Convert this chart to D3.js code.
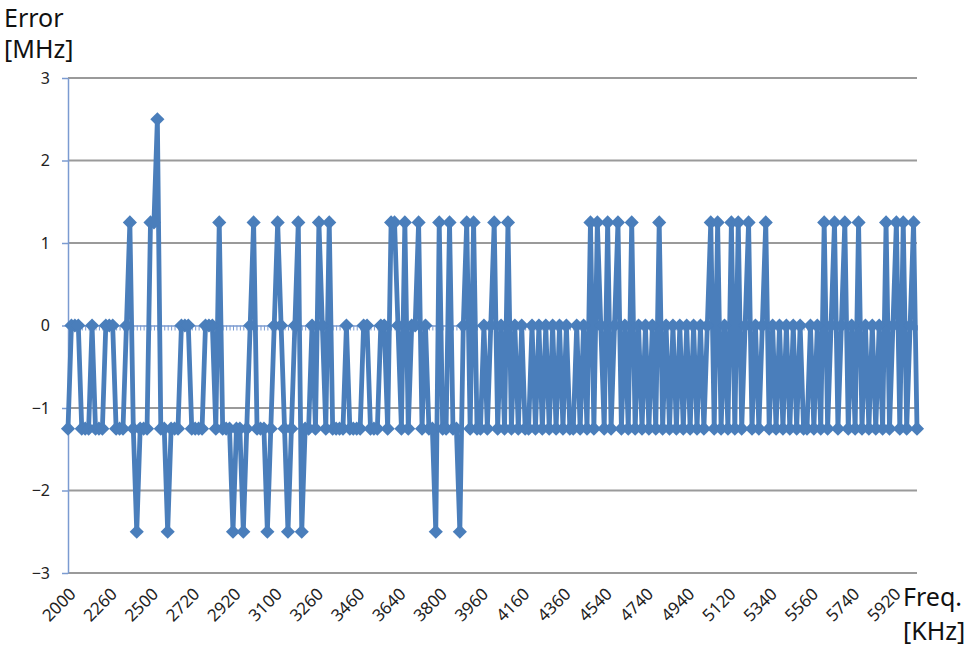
<!DOCTYPE html>
<html>
<head>
<meta charset="utf-8">
<script src="https://cdn.jsdelivr.net/npm/d3@7"></script>
<style>
  body { margin: 0; background: #fff; }
  text { font-family: "Noto Sans", "Open Sans", sans-serif; }
  .tick-label { font-size: 16px; fill: #222; }
  .title { font-size: 25px; fill: #111; }
</style>
</head>
<body>
<div id="vis"></div>
<script>
// x-axis labels, one every 12 measurement points
const tickLabels = ['2000', '2260', '2500', '2720', '2920', '3100', '3260', '3460', '3640', '3800', '3960',
                    '4160', '4360', '4540', '4740', '4940', '5120', '5340', '5560', '5740', '5920']
const labelEvery = 12
const yTicks = [3, 2, 1, 0, -1, -2, -3]

// error per measurement point [MHz]
const errors = [
  -1.25, 0, 0, 0, -1.25, -1.25, -1.25, 0, -1.25, -1.25,
  -1.25, 0, 0, 0, -1.25, -1.25, -1.25, 0, 1.25, -1.25,
  -2.5, -1.25, -1.25, -1.25, 1.25, 1.25, 2.5, -1.25, -1.25, -2.5,
  -1.25, -1.25, -1.25, 0, 0, 0, -1.25, -1.25, -1.25, -1.25,
  0, 0, 0, -1.25, 1.25, -1.25, -1.25, -1.25, -2.5, -1.25,
  -1.25, -2.5, -1.25, 0, 1.25, -1.25, -1.25, -1.25, -2.5, -1.25,
  0, 1.25, 0, -1.25, -2.5, -1.25, 0, 1.25, -2.5, -1.25,
  -1.25, 0, -1.25, 1.25, 0, -1.25, 1.25, -1.25, -1.25, -1.25,
  -1.25, 0, -1.25, -1.25, -1.25, -1.25, 0, 0, -1.25, -1.25,
  -1.25, 0, 0, -1.25, 1.25, 1.25, 0, -1.25, 1.25, -1.25,
  0, 0, 1.25, -1.25, 0, -1.25, -1.25, -2.5, 1.25, -1.25,
  -1.25, 1.25, -1.25, -1.25, -2.5, 0, 1.25, -1.25, 1.25, -1.25,
  -1.25, 0, -1.25, 0, 1.25, -1.25, 0, -1.25, 1.25, -1.25,
  0, -1.25, 0, -1.25, -1.25, 0, -1.25, 0, -1.25, 0,
  -1.25, 0, -1.25, 0, -1.25, 0, -1.25, -1.25, 0, -1.25,
  0, -1.25, 1.25, -1.25, 1.25, 0, -1.25, 1.25, -1.25, 0,
  1.25, -1.25, 0, -1.25, 1.25, -1.25, 0, -1.25, 0, -1.25,
  0, -1.25, 1.25, -1.25, 0, -1.25, 0, -1.25, 0, -1.25,
  0, -1.25, 0, -1.25, 0, -1.25, 0, 1.25, -1.25, 1.25,
  -1.25, 0, -1.25, 1.25, -1.25, 1.25, -1.25, 0, 1.25, -1.25,
  0, -1.25, 0, 1.25, -1.25, 0, -1.25, 0, -1.25, 0,
  -1.25, 0, -1.25, 0, -1.25, -1.25, 0, -1.25, 0, -1.25,
  1.25, -1.25, 0, 1.25, -1.25, 0, 1.25, -1.25, 0, -1.25,
  1.25, -1.25, 0, -1.25, 0, -1.25, 0, -1.25, 1.25, -1.25,
  0, 1.25, -1.25, 1.25, -1.25, 0, 1.25, -1.25
]

;(function() {
  const svg_width = 972,
        svg_height = 648,
        blue = '#4a7ebb',
        axisBlue = '#7b9bd1',
        svg = d3.select('#vis').append('svg')
          .attr('width', svg_width)
          .attr('height', svg_height)

  const x = d3.scalePoint()
    .domain(d3.range(errors.length))
    .range([68, 917])

  const y = d3.scaleLinear()
    .domain([-3, 3])
    .range([573, 78])

  // gridlines
  svg.append('g').attr('class', 'grid')
    .selectAll('line')
    .data(yTicks.filter(d => d !== 0))
    .join('line')
    .attr('x1', 68)
    .attr('x2', 917)
    .attr('y1', d => y(d))
    .attr('y2', d => y(d))
    .attr('stroke', '#9a9a9a')
    .attr('stroke-width', 1.8)

  // y axis
  const yAxis = svg.append('g')
    .attr('transform', 'translate(68,0)')
    .call(d3.axisLeft(y).tickValues(yTicks).tickFormat(d3.format('d'))
      .tickSize(6).tickSizeOuter(0).tickPadding(12))
  yAxis.select('.domain').attr('stroke', axisBlue).attr('stroke-width', 1.5)
  yAxis.selectAll('.tick line').attr('stroke', axisBlue).attr('stroke-width', 1.5)
  yAxis.selectAll('.tick text')
    .attr('class', 'tick-label')
    .style('font-size', '16px')
    .style('font-family', '"Noto Sans", sans-serif')
    .attr('fill', '#222')

  // category axis crossing at zero
  const xAxis = svg.append('g')
    .attr('transform', `translate(0,${y(0)})`)
    .call(d3.axisBottom(x).tickSize(5).tickSizeOuter(0).tickFormat(''))
  xAxis.select('.domain').attr('stroke', axisBlue).attr('stroke-width', 1.5)
  xAxis.selectAll('.tick line').attr('stroke', axisBlue).attr('stroke-width', 1)

  // rotated category labels at the bottom
  svg.append('g').selectAll('text')
    .data(tickLabels)
    .join('text')
    .attr('class', 'tick-label')
    .style('font-size', '17px')
    .attr('text-anchor', 'end')
    .attr('transform', (d, i) => `translate(${x(i * labelEvery) + 9},${y(-3) + 22}) rotate(-45)`)
    .text(d => d)

  // series
  const line = d3.line()
    .x((d, i) => x(i))
    .y(d => y(d))

  svg.append('path')
    .datum(errors)
    .attr('d', line)
    .attr('fill', 'none')
    .attr('stroke', blue)
    .attr('stroke-width', 4.8)
    .attr('stroke-linejoin', 'round')

  svg.append('g').selectAll('path')
    .data(errors)
    .join('path')
    .attr('d', d3.symbol().type(d3.symbolSquare).size(100))
    .attr('transform', (d, i) => `translate(${x(i)},${y(d)}) rotate(45)`)
    .attr('fill', blue)

  // axis titles
  svg.append('text').attr('class', 'title').attr('x', 4).attr('y', 27).text('Error')
  svg.append('text').attr('class', 'title').attr('x', 4).attr('y', 58).text('[MHz]')
  svg.append('text').attr('class', 'title').attr('x', 903).attr('y', 606).text('Freq.')
  svg.append('text').attr('class', 'title').attr('x', 903).attr('y', 640).text('[KHz]')
}())
</script>
</body>
</html>
